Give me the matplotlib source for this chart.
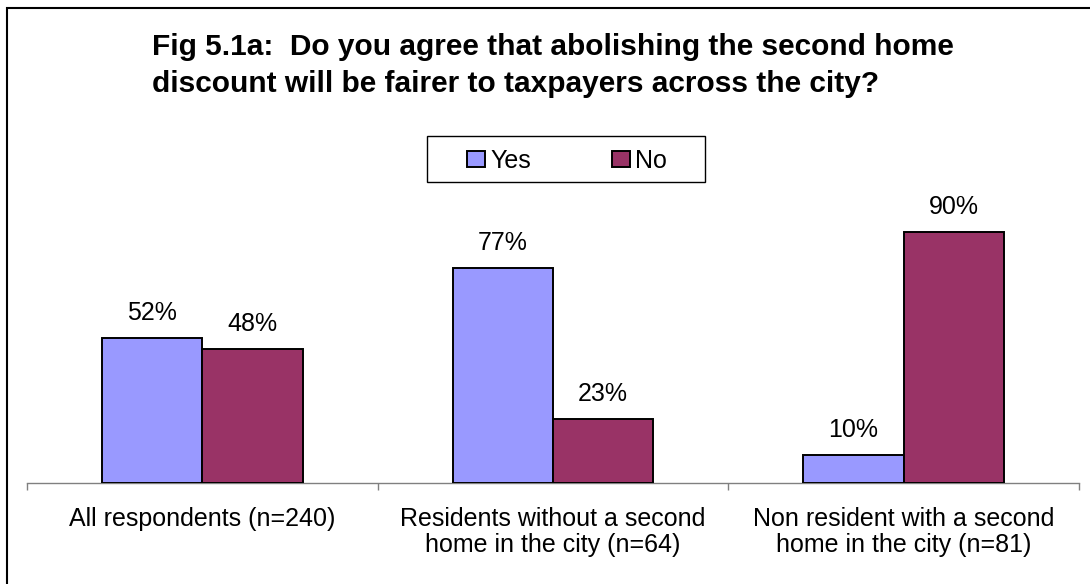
import matplotlib

matplotlib.use("Agg")
import matplotlib.pyplot as plt
from matplotlib.patches import Rectangle
import numpy as np

TITLE = ("Fig 5.1a:  Do you agree that abolishing the second home\n"
         "discount will be fairer to taxpayers across the city?")
CATEGORIES = [
    "All respondents (n=240)",
    "Residents without a second\nhome in the city (n=64)",
    "Non resident with a second\nhome in the city (n=81)",
]
SERIES = ["Yes", "No"]
YES = [52, 77, 10]
NO = [48, 23, 90]
COLORS = ["#9999FF", "#993366"]

W, H = 1090, 584
plt.rcParams["font.family"] = ["Liberation Sans", "DejaVu Sans"]


def fx(px):
    return px / W


def fy(py):
    return 1 - py / H


fig = plt.figure(figsize=(W / 100, H / 100), dpi=100, facecolor="white")

# outer frame (only left and top edges are visible in the picture)
fig.patches.append(Rectangle((fx(7), -0.2), 1.5, 1.2 - 8 / H, transform=fig.transFigure,
                             fill=False, edgecolor="black", lw=1.5))

ax = fig.add_axes([fx(27), fy(483), 1052 / W, 279 / H])

x = np.arange(len(CATEGORIES))
width = 1 / 3.5
for k, (name, vals) in enumerate(zip(SERIES, [YES, NO])):
    pos = x + (k - 0.5) * width
    ax.bar(pos, vals, width=width, color=COLORS[k], edgecolor="black", linewidth=1.4,
           label=name, zorder=3)
    for px, v in zip(pos, vals):
        ax.annotate(f"{v}%", (px, v), xytext=(0, 13), textcoords="offset points",
                    ha="center", va="baseline", fontsize=18)

ax.set_xlim(-0.5, len(CATEGORIES) - 0.5)
ax.set_ylim(0, 100)
ax.set_yticks([])
for side in ["left", "right", "top"]:
    ax.spines[side].set_visible(False)
ax.spines["bottom"].set_color("#808080")
ax.spines["bottom"].set_linewidth(1.0)

ax.set_xticks(x)
ax.set_xticklabels(CATEGORIES, fontsize=18, linespacing=1.1)
ax.tick_params(axis="x", which="major", length=0, pad=17.5)
ax.set_xticks(np.arange(len(CATEGORIES) + 1) - 0.5, minor=True)
ax.tick_params(axis="x", which="minor", length=5, width=1.0, color="#808080", direction="out")

# legend box drawn by hand to match the wide spacing of the original
fig.patches.append(Rectangle((fx(427), fy(182)), (705 - 427) / W, (182 - 136) / H,
                             transform=fig.transFigure, facecolor="white",
                             edgecolor="black", lw=1.0))
for name, color, mx in zip(SERIES, COLORS, [467, 612]):
    fig.patches.append(Rectangle((fx(mx), fy(167)), 18 / W, 16 / H, transform=fig.transFigure,
                                 facecolor=color, edgecolor="black", lw=1.4))
    fig.text(fx(mx + 23), fy(159), name, ha="left", va="center_baseline", fontsize=18)

fig.text(fx(152), fy(33), TITLE, ha="left", va="top", fontsize=21.5,
         fontweight="bold", linespacing=1.42)

fig.savefig("out.png", dpi=100, facecolor="white")
